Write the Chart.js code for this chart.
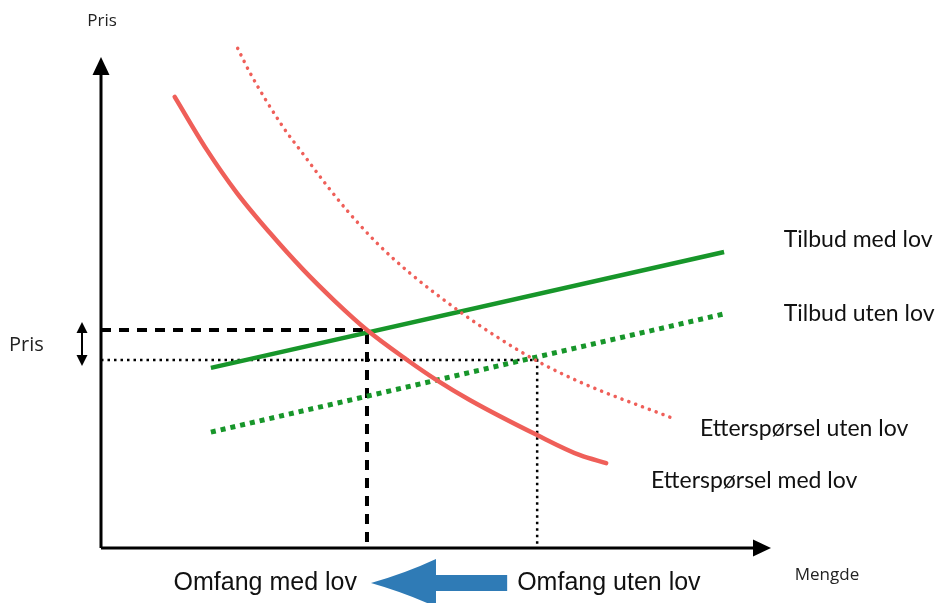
<!DOCTYPE html>
<html>
<head>
<meta charset="utf-8">
<script src="https://cdn.jsdelivr.net/npm/chart.js@4.4.1/dist/chart.umd.min.js"></script>
<style>
html,body{margin:0;padding:0;background:#fff;}
#wrap{width:937px;height:603px;position:relative;}
</style>
</head>
<body>
<div id="wrap"><canvas id="c" width="937" height="603"></canvas></div>
<script>
// ---- data (Mengde on x, Pris on y; arbitrary units 0..100) ----
const demandWithLawX = [11.0, 15.8, 20.3, 25.2, 30.1, 34.9, 39.7, 45.7, 50.1, 55.1, 65.1, 71.5, 75.4];
const demandWithLawY = [91.9, 81.1, 72.3, 64.2, 56.8, 50.3, 44.4, 38.3, 34.2, 30.1, 23.0, 18.9, 17.3];
const demandWithoutLawX = [20.4, 22.2, 27.2, 29.7, 33.9, 36.7, 41.2, 46.1, 53.6, 59.1, 64.8, 71.5, 85.2];
const demandWithoutLawY = [101.8, 96.9, 85.7, 81.1, 73.5, 68.8, 62.1, 56.0, 48.1, 43.0, 38.3, 33.8, 26.5];
const supplyWithLawX = [16.4, 93.0];
const supplyWithLawY = [36.7, 60.3];
const supplyWithoutLawX = [16.4, 93.0];
const supplyWithoutLawY = [23.6, 47.7];
const eqWithLaw = [39.7, 44.4];      // [Mengde, Pris]
const eqWithoutLaw = [65.1, 38.3];   // [Mengde, Pris]
const labels = {
  yAxis: "Pris", xAxis: "Mengde", priceTick: "Pris",
  supplyWith: "Tilbud med lov", supplyWithout: "Tilbud uten lov",
  demandWithout: "Etterspørsel uten lov", demandWith: "Etterspørsel med lov",
  qtyWith: "Omfang med lov", qtyWithout: "Omfang uten lov"
};

const zip = (xs, ys) => xs.map((x, i) => ({x, y: ys[i]}));

const RED = '#ef5f59';
const GREEN = '#17962a';

const decor = {
  id: 'decor',
  afterDatasetsDraw(chart) {
    const ctx = chart.ctx;
    const xs = chart.scales.x, ys = chart.scales.y;
    const X = v => xs.getPixelForValue(v), Y = v => ys.getPixelForValue(v);
    ctx.save();
    ctx.fillStyle = '#000'; ctx.strokeStyle = '#000';
    // axes
    ctx.lineWidth = 3;
    ctx.beginPath();
    ctx.moveTo(X(0), Y(0)); ctx.lineTo(X(0), Y(100) + 14);
    ctx.moveTo(X(0), Y(0)); ctx.lineTo(X(100) - 14, Y(0));
    ctx.stroke();
    // arrow heads
    ctx.beginPath();
    ctx.moveTo(X(0), Y(100)); ctx.lineTo(X(0) - 8.5, Y(100) + 18); ctx.lineTo(X(0) + 8.5, Y(100) + 18); ctx.closePath(); ctx.fill();
    ctx.beginPath();
    ctx.moveTo(X(100), Y(0)); ctx.lineTo(X(100) - 18, Y(0) - 8.5); ctx.lineTo(X(100) - 18, Y(0) + 8.5); ctx.closePath(); ctx.fill();

    // double arrow near price axis
    const ax = X(0) - 19, ya = Y(eqWithLaw[1]) - 8, yb = Y(eqWithoutLaw[1]) + 6;
    ctx.lineWidth = 2;
    ctx.beginPath(); ctx.moveTo(ax, ya + 6); ctx.lineTo(ax, yb - 6); ctx.stroke();
    ctx.beginPath(); ctx.moveTo(ax, ya); ctx.lineTo(ax - 5.5, ya + 11); ctx.lineTo(ax + 5.5, ya + 11); ctx.closePath(); ctx.fill();
    ctx.beginPath(); ctx.moveTo(ax, yb); ctx.lineTo(ax - 5.5, yb - 11); ctx.lineTo(ax + 5.5, yb - 11); ctx.closePath(); ctx.fill();

    // texts
    ctx.textBaseline = 'middle';
    ctx.fillStyle = '#222';
    ctx.font = '17px "Open Sans", sans-serif';
    ctx.textAlign = 'center';
    ctx.fillText(labels.yAxis, X(0) + 1, 21);
    ctx.fillText(labels.xAxis, X(100) + 56, Y(0) + 27);
    ctx.font = '20px "Open Sans", sans-serif';
    ctx.textAlign = 'left';
    ctx.fillText(labels.priceTick, 9, (Y(eqWithLaw[1]) + Y(eqWithoutLaw[1])) / 2);

    ctx.fillStyle = '#111';
    ctx.font = '23px "Lato", sans-serif';
    ctx.fillText(labels.supplyWith, X(101.9), Y(62.9));
    ctx.fillText(labels.supplyWithout, X(101.9), Y(47.7));
    ctx.fillText(labels.demandWithout, X(89.4), Y(24.4));
    ctx.fillText(labels.demandWith, X(82.1), Y(13.8));

    // bottom quantity labels with blue arrow
    ctx.font = '25px "Liberation Sans", Arial, sans-serif';
    ctx.fillStyle = '#111';
    const by = Y(0) + 35;
    ctx.textAlign = 'right';
    ctx.fillText(labels.qtyWith, X(eqWithLaw[0]) - 10, by);
    ctx.textAlign = 'left';
    ctx.fillText(labels.qtyWithout, X(eqWithoutLaw[0]) - 20, by);
    // blue arrow
    const tip = X(eqWithLaw[0]) + 4, tail = X(eqWithoutLaw[0]) - 30;
    const ay = by;
    ctx.fillStyle = '#2f7bb6';
    ctx.beginPath();
    ctx.moveTo(tip, ay);
    ctx.quadraticCurveTo(tip + 35, ay - 10, tip + 65, ay - 24);
    ctx.lineTo(tip + 65, ay - 8);
    ctx.lineTo(tail, ay - 8);
    ctx.lineTo(tail, ay + 8);
    ctx.lineTo(tip + 65, ay + 8);
    ctx.lineTo(tip + 65, ay + 24);
    ctx.quadraticCurveTo(tip + 35, ay + 10, tip, ay);
    ctx.closePath();
    ctx.fill();
    ctx.restore();
  }
};

new Chart(document.getElementById('c'), {
  type: 'scatter',
  data: {
    datasets: [
      { label: 'Etterspørsel uten lov', data: zip(demandWithoutLawX, demandWithoutLawY), showLine: true, cubicInterpolationMode: 'monotone',
        borderColor: RED, borderWidth: 3.5, borderDash: [0.1, 7.2], borderCapStyle: 'round', pointRadius: 0 },
      { label: 'Etterspørsel med lov', data: zip(demandWithLawX, demandWithLawY), showLine: true, cubicInterpolationMode: 'monotone',
        borderColor: RED, borderWidth: 4.5, pointRadius: 0, borderCapStyle: 'round' },
      { label: 'Tilbud uten lov', data: zip(supplyWithoutLawX, supplyWithoutLawY), showLine: true,
        borderColor: GREEN, borderWidth: 5, borderDash: [5, 5], pointRadius: 0 },
      { label: 'Tilbud med lov', data: zip(supplyWithLawX, supplyWithLawY), showLine: true,
        borderColor: GREEN, borderWidth: 4.5, pointRadius: 0 },
      { label: 'pris med lov', data: [{x: 0, y: eqWithLaw[1]}, {x: eqWithLaw[0], y: eqWithLaw[1]}, {x: eqWithLaw[0], y: 0}], showLine: true,
        borderColor: '#000', borderWidth: 4, borderDash: [10, 8], pointRadius: 0 },
      { label: 'pris uten lov', data: [{x: 0, y: eqWithoutLaw[1]}, {x: eqWithoutLaw[0], y: eqWithoutLaw[1]}, {x: eqWithoutLaw[0], y: 0}], showLine: true,
        borderColor: '#000', borderWidth: 2.5, borderDash: [2.5, 4], pointRadius: 0 }
    ]
  },
  options: {
    responsive: false,
    animation: false,
    layout: { padding: { left: 101, right: 166, top: 8, bottom: 55 } },
    scales: {
      x: { type: 'linear', min: 0, max: 100, display: false },
      y: { type: 'linear', min: 0, max: 110, display: false }
    },
    plugins: { legend: { display: false }, tooltip: { enabled: false } },
    clip: false
  },
  plugins: [decor]
});
</script>
</body>
</html>
